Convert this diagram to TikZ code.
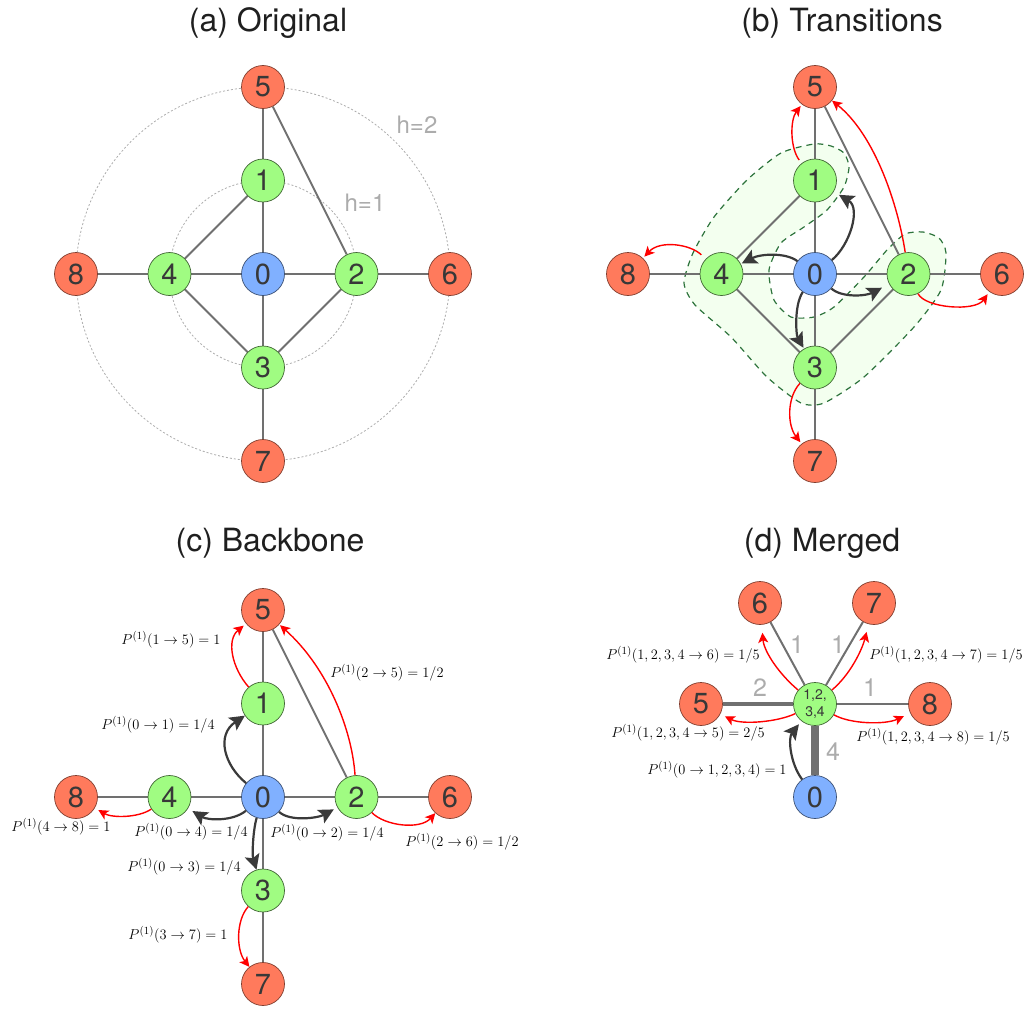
\documentclass[tikz,border=0pt]{standalone}
\usepackage{amsmath}
\usepackage[no-math]{fontspec}
\setmainfont{TeX Gyre Heros}
\usetikzlibrary{arrows.meta,backgrounds}

\definecolor{srcblue}{RGB}{128,176,255}
\definecolor{hopgreen}{RGB}{160,252,130}
\definecolor{rimred}{RGB}{255,122,92}
\definecolor{linkgray}{RGB}{112,112,112}
\definecolor{ringgray}{RGB}{172,172,172}
\definecolor{walkgray}{RGB}{58,58,58}
\definecolor{groupline}{RGB}{45,115,60}
\definecolor{groupfill}{RGB}{243,255,239}
\newcommand{\Pone}{P^{(1)}}

\begin{document}
\begin{tikzpicture}[x=1pt, y=-1pt,
		vertex/.style={circle, line width=0.7pt, minimum size=43pt, inner sep=0pt,
			font=\fontsize{29}{29}\selectfont, text=black!78},
		src/.style={vertex, fill=srcblue, draw=srcblue!45!black},
		hop/.style={vertex, fill=hopgreen, draw=hopgreen!40!black},
		rim/.style={vertex, fill=rimred, draw=rimred!50!black},
		link/.style={draw=linkgray, line width=2pt},
		ring/.style={draw=ringgray, line width=0.8pt, dash pattern=on 2pt off 2pt},
		group/.style={draw=groupline, fill=groupfill, line width=1.2pt, dash pattern=on 6pt off 5pt},
		walk/.style={draw=walkgray, line width=2.2pt, -{Stealth[length=15pt,width=15pt,inset=3pt]}},
		leave/.style={draw=red, line width=1.4pt, -{Stealth[length=10pt,width=10pt,inset=2.5pt]}},
		prob/.style={font=\fontsize{15}{18}\selectfont},
		heading/.style={font=\fontsize{32}{36}\selectfont, text=black!88, anchor=base},
		hlabel/.style={text=ringgray, font=\fontsize{24}{24}\selectfont, anchor=base},
		weight/.style={text=ringgray, font=\fontsize{25}{25}\selectfont}]
	\useasboundingbox (0,0) rectangle (1029,1009);

	% titles
	\node[heading] (ta) at (268,31) {(a) Original};
	\node[heading] (tb) at (842,31) {(b) Transitions};
	\node[heading] (tc) at (270,551) {(c) Backbone};
	\node[heading] (td) at (822,551) {(d) Merged};

	% the same graph in (a), (b) and (c)
	\foreach \p/\cx/\cy in {a/263/274, b/815/274, c/263/797}{
		\begin{scope}[shift={(\cx,\cy)}]
			\node[src] (\p0) at (0,0) {0};
			\node[hop] (\p1) at (0,-93.5) {1};
			\node[hop] (\p2) at (93.5,0) {2};
			\node[hop] (\p3) at (0,93.5) {3};
			\node[hop] (\p4) at (-93.5,0) {4};
			\node[rim] (\p5) at (0,-187) {5};
			\node[rim] (\p6) at (187,0) {6};
			\node[rim] (\p7) at (0,187) {7};
			\node[rim] (\p8) at (-187,0) {8};
		\end{scope}
	}
	\node[hlabel] (h2) at (417,133) {h=2};
	\node[hlabel] (h1) at (365,211) {h=1};

	% merged graph (d)
	\node[hop, font=\fontsize{14}{17}\selectfont, align=center] (dM) at (815,704) {1,2,\\3,4};
	\node[src] (d0) at (815,797) {0};
	\node[rim] (d5) at (701,704) {5};
	\node[rim] (d6) at (760,603) {6};
	\node[rim] (d7) at (874,603) {7};
	\node[rim] (d8) at (930,704) {8};

	\begin{scope}[on background layer]
		\draw[ring] (a0) circle[radius=93.5pt];
		\draw[ring] (a0) circle[radius=187pt];
		\begin{scope}[shift={(815,274)}]
			\draw[group] plot[smooth cycle, tension=0.4] coordinates {
				(-1,-130) (-34,-121) (-68,-94) (-101,-57) (-122,-21) (-131,9) (-120,31)
				(-84,63) (-48,103) (-14,129) (9,129) (49,103) (99,53) (126,16) (131,-21)
				(124,-36) (108,-42) (90,-40) (72,-24) (49,3) (19,33) (-1,43) (-24,43)
				(-41,26) (-46,-4) (-34,-31) (-11,-47) (12,-64) (29,-87) (34,-107)
				(29,-121) (16,-128)};
		\end{scope}
		\foreach \p in {a,b}{
			\foreach \u/\v in {0/1,0/2,0/3,0/4,1/4,4/3,3/2,1/5,2/5,4/8,2/6,3/7}
				\draw[link] (\p\u) -- (\p\v);
		}
		\foreach \u/\v in {0/1,0/2,0/3,0/4,1/5,2/5,4/8,2/6,3/7}
			\draw[link] (c\u) -- (c\v);
		\draw[link] (dM) -- (d6);
		\draw[link] (dM) -- (d7);
		\draw[link] (dM) -- (d8);
		\draw[link, line width=4pt] (dM) -- (d5);
		\draw[link, line width=8pt] (dM) -- (d0);
	\end{scope}

	% (b) transitions
	\draw[walk, shorten >=6pt] (b0) .. controls (850,245) and (861,208) .. (b1);
	\draw[walk, shorten >=1pt] (b0) .. controls (785,252) and (760,254) .. (b4);
	\draw[walk, shorten >=8pt] (b0) .. controls (842,298) and (866,296) .. (b2);
	\draw[walk, shorten >=1pt] (b0) .. controls (794,305) and (796,335) .. (b3);
	\draw[leave, shorten <=4pt, shorten >=2pt] (b1) .. controls (790,148) and (790,120) .. (b5);
	\draw[leave] (b2) .. controls (898,205) and (875,135) .. (b5);
	\draw[leave, shorten <=6pt, shorten >=2pt] (b4) .. controls (690,244) and (660,240) .. (b8);
	\draw[leave, shorten >=3pt] (b2) .. controls (925,308) and (975,312) .. (b6);
	\draw[leave, shorten >=2pt] (b3) .. controls (787,397) and (787,425) .. (b7);

	% (c) backbone
	\draw[walk] (c0) .. controls (224,765) and (216,735) .. (c1);
	\draw[walk, shorten >=5pt] (c0) .. controls (232,822) and (207,820) .. (c4);
	\draw[walk, shorten >=4pt] (c0) .. controls (290,822) and (318,818) .. (c2);
	\draw[walk] (c0) .. controls (253,830) and (252,855) .. (c3);
	\draw[leave, shorten >=3pt] (c1) .. controls (232,668) and (226,640) .. (c5);
	\draw[leave, shorten >=1pt] (c2) .. controls (352,730) and (328,668) .. (c5);
	\draw[leave] (c2) .. controls (385,826) and (420,830) .. (c6);
	\draw[leave, shorten >=4pt] (c4) .. controls (138,818) and (112,818) .. (c8);
	\draw[leave] (c3) .. controls (236,920) and (236,950) .. (c7);
	\node[prob] (p15) at (171,640) {$\Pone(1\to5)=1$};
	\node[prob] (p25) at (387,673) {$\Pone(2\to5)=1/2$};
	\node[prob] (p26) at (462,842) {$\Pone(2\to6)=1/2$};
	\node[prob] (p48) at (61,827) {$\Pone(4\to8)=1$};
	\node[prob] (p37) at (178,935) {$\Pone(3\to7)=1$};
	\node[prob] (p01) at (158,725) {$\Pone(0\to1)=1/4$};
	\node[prob] (p04) at (191,832) {$\Pone(0\to4)=1/4$};
	\node[prob] (p02) at (327,833) {$\Pone(0\to2)=1/4$};
	\node[prob] (p03) at (184,867) {$\Pone(0\to3)=1/4$};

	% (d) merged
	\draw[leave, shorten >=8pt] (dM) .. controls (780,675) and (764,652) .. (d6);
	\draw[leave, shorten >=8pt] (dM) .. controls (850,675) and (862,650) .. (d7);
	\draw[leave, shorten >=5pt] (dM) .. controls (778,722) and (742,725) .. (d5);
	\draw[leave, shorten >=7pt] (dM) .. controls (850,724) and (885,725) .. (d8);
	\draw[walk, shorten >=4pt] (d0) .. controls (790,763) and (788,738) .. (dM);
	\node[weight] (w6) at (797,645) {1};
	\node[weight] (w7) at (838,645) {1};
	\node[weight] (w5) at (760,688) {2};
	\node[weight] (w8) at (870,688) {1};
	\node[weight] (w0) at (833,752) {4};
	\node[prob] (pM6) at (683,655) {$\Pone(1,2,3,4\to6)=1/5$};
	\node[prob] (pM7) at (946,655) {$\Pone(1,2,3,4\to7)=1/5$};
	\node[prob] (pM5) at (688,733) {$\Pone(1,2,3,4\to5)=2/5$};
	\node[prob] (pM8) at (933,737) {$\Pone(1,2,3,4\to8)=1/5$};
	\node[prob] (p0M) at (717,770) {$\Pone(0\to1,2,3,4)=1$};
\end{tikzpicture}
\end{document}
